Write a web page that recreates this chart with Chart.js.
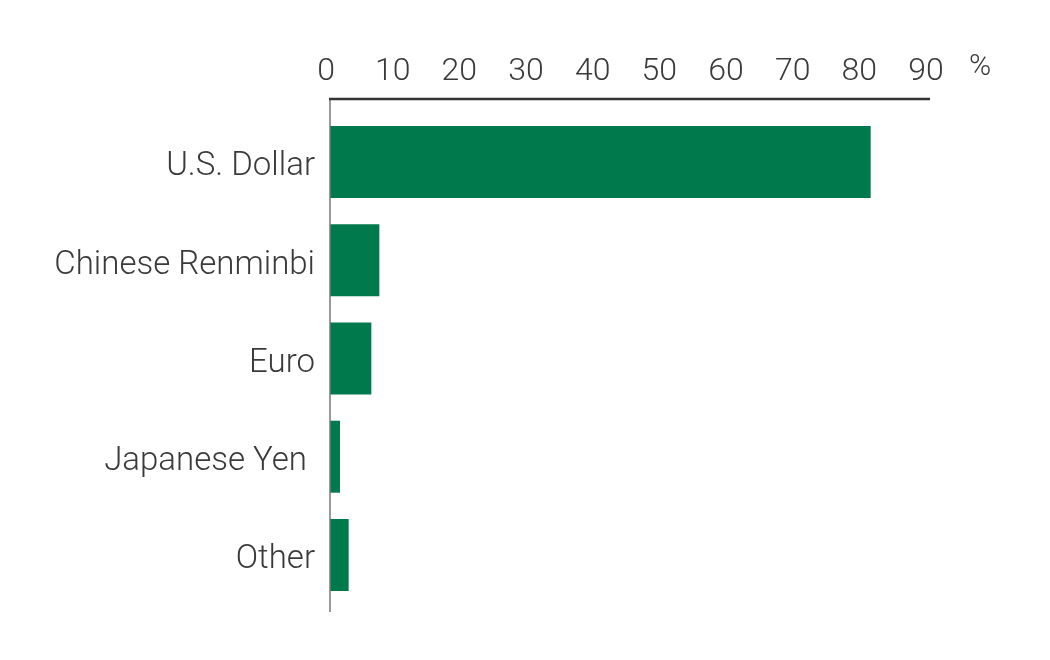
<!DOCTYPE html>
<html>
<head>
<meta charset="utf-8">
<script src="https://cdn.jsdelivr.net/npm/chart.js@4/dist/chart.umd.min.js"></script>
<style>
  html, body { margin: 0; padding: 0; background: #fff; }
  #wrap { width: 1050px; height: 660px; }
</style>
</head>
<body>
<div id="wrap"><canvas id="currencyChart" width="1050" height="660"></canvas></div>
<script>
/* global Chart */

// currency share, percent
const currencies = ['U.S. Dollar', 'Chinese Renminbi', 'Euro', 'Japanese Yen ', 'Other'];
const shares = [81.1, 7.4, 6.2, 1.5, 2.8];
const xTicks = [0, 10, 20, 30, 40, 50, 60, 70, 80, 90];
const unitLabel = '%';

const green = '#007a4c';
const textColor = '#3a3a3a';
const fontFamily = "Roboto, 'Liberation Sans', Arial, sans-serif";

// axis lines sit a little outside the bar area, like the original
const axisLines = {
  id: 'axisLines',
  afterDraw(chart) {
    const { ctx, chartArea } = chart;
    const topY = chartArea.top - 14;
    ctx.save();
    ctx.strokeStyle = '#777';
    ctx.lineWidth = 1.5;
    ctx.beginPath();
    ctx.moveTo(chartArea.left, topY);
    ctx.lineTo(chartArea.left, chartArea.bottom + 8);
    ctx.stroke();

    ctx.strokeStyle = '#333';
    ctx.lineWidth = 2.5;
    ctx.beginPath();
    ctx.moveTo(chartArea.left - 1, topY);
    ctx.lineTo(chartArea.right, topY);
    ctx.stroke();

    ctx.fillStyle = textColor;
    ctx.font = `300 30px ${fontFamily}`;
    ctx.textAlign = 'center';
    ctx.textBaseline = 'alphabetic';
    ctx.fillText(unitLabel, chartArea.right + 50, 75);
    ctx.restore();
  },
};

const canvas = document.getElementById('currencyChart');
const myChart = new Chart(canvas.getContext('2d'), {
  type: 'bar',
  data: {
    labels: currencies,
    datasets: [{
      data: shares,
      backgroundColor: green,
      borderWidth: 0,
      categoryPercentage: 1,
      barPercentage: 0.733,
    }],
  },
  options: {
    indexAxis: 'y',
    responsive: false,
    animation: false,
    events: [],
    layout: { padding: { left: 0, top: 0, right: 120, bottom: 56 } },
    plugins: {
      legend: { display: false },
      tooltip: { enabled: false },
    },
    scales: {
      x: {
        position: 'top',
        min: 0,
        max: 90,
        afterFit(scale) { scale.height = 113; },
        afterBuildTicks(scale) { scale.ticks = xTicks.map((v) => ({ value: v })); },
        grid: { display: false, drawTicks: false },
        border: { display: false },
        ticks: {
          padding: 22,
          labelOffset: -4,
          color: textColor,
          font: { family: fontFamily, size: 32, weight: '300' },
        },
      },
      y: {
        afterFit(scale) { scale.width = 330; },
        grid: { display: false, drawTicks: false },
        border: { display: false },
        ticks: {
          padding: 15,
          labelOffset: 5,
          color: textColor,
          font: { family: fontFamily, size: 33, weight: '300' },
        },
      },
    },
  },
  plugins: [axisLines],
});
</script>
</body>
</html>
